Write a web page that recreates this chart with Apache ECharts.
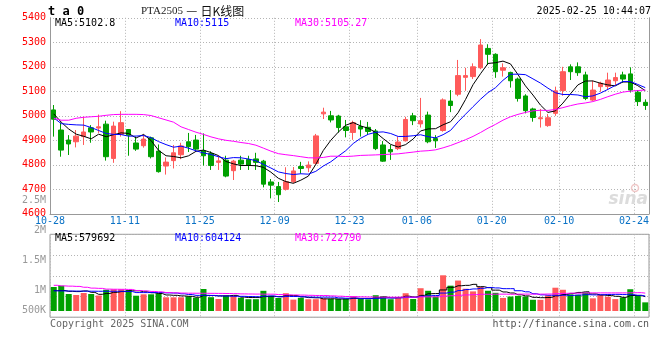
<!DOCTYPE html>
<html><head><meta charset="utf-8">
<script src="https://cdn.jsdelivr.net/npm/echarts@6/dist/echarts.min.js"></script>
<style>html,body{margin:0;padding:0;background:#fff}#c{width:660px;height:360px}</style>
</head><body><div id="c"></div>
<script>
const dates = ['10-28','10-29','10-30','10-31','11-01','11-04','11-05','11-06','11-07','11-08',
'11-11','11-12','11-13','11-14','11-15','11-18','11-19','11-20','11-21','11-22',
'11-25','11-26','11-27','11-28','11-29','12-02','12-03','12-04','12-05','12-06',
'12-09','12-10','12-11','12-12','12-13','12-16','12-17','12-18','12-19','12-20',
'12-23','12-24','12-25','12-26','12-27','12-30','12-31','01-02','01-03',
'01-06','01-07','01-08','01-09','01-10','01-13','01-14','01-15','01-16','01-17',
'01-20','01-21','01-22','01-23','01-24','01-27','02-05','02-06','02-07',
'02-10','02-11','02-12','02-13','02-14','02-17','02-18','02-19','02-20','02-21',
'02-24','02-25'];
const tickDates = ['10-28','11-11','11-25','12-09','12-23','01-06','01-20','02-10','02-24'];

const opens = [5024,4942,4901,4894,4915,4951,4950,4966,4826,4924,4944,4889,4878,4910,4856,4795,4817,4841,4894,4901,
4857,4846,4810,4819,4776,4819,4822,4824,4815,4730,4711,4700,4731,4793,4788,4806,5008,5000,4999,4955,
4932,4956,4953,4938,4881,4862,4866,4898,5000,4967,5003,4907,4940,5060,5088,5157,5160,5196,5275,5251,
5186,5177,5150,5081,5028,4988,4960,5010,5103,5200,5200,5167,5064,5119,5120,5143,5167,5171,5096,5055];
const closes = [4986,4860,4885,4917,4934,4934,4955,4833,4958,4972,4921,4864,4905,4833,4772,4811,4849,4877,4874,4864,
4837,4797,4816,4754,4815,4803,4799,4810,4721,4717,4678,4731,4775,4785,4799,4918,5015,4983,4952,4940,
4972,4946,4936,4866,4815,4853,4893,4985,4980,4980,4894,4898,5065,5042,5164,5164,5200,5289,5251,5180,
5196,5143,5071,5021,4993,4992,4992,5102,5180,5180,5176,5071,5105,5133,5146,5156,5150,5105,5058,5042];
const lows = [4915,4833,4840,4871,4881,4890,4930,4817,4808,4915,4837,4857,4870,4826,4768,4760,4785,4823,4852,4858,
4797,4779,4779,4749,4738,4779,4779,4779,4708,4663,4648,4695,4725,4764,4770,4800,4987,4973,4932,4912,
4902,4915,4922,4860,4812,4820,4860,4895,4962,4952,4888,4869,4935,5015,5080,5102,5150,5190,5207,5155,
5160,5115,5058,5010,4976,4952,4955,5000,5082,5146,5163,5064,5060,5098,5105,5125,5135,5095,5040,5024];
const highs = [5044,4973,4921,4942,4996,4962,5005,4980,4976,5019,4946,4915,4924,4915,4883,4830,4881,4890,4930,4922,
4928,4855,4837,4837,4820,4837,4837,4849,4820,4742,4730,4790,4791,4812,4814,4926,5033,5020,5004,4983,
4980,4982,4975,4946,4897,4881,4915,4996,5012,5073,5017,4921,5071,5105,5228,5196,5214,5313,5292,5255,
5214,5180,5156,5088,5033,5028,5007,5119,5200,5210,5218,5180,5143,5139,5176,5176,5180,5198,5105,5067];

const ma5 = [5008,4974,4946,4925,4916.4,4906,4925,4914.6,4922.8,4930.4,4927.8,4909.6,4924,4899,4859,4837,4834,4828.4,4836.6,4855,
4860.2,4849.8,4837.6,4813.6,4803.8,4797,4797.4,4796.2,4789.6,4770,4745,4731.4,4724.4,4737.2,4753.6,4801.6,4858.4,4900,4933.4,4961.6,
4972.4,4958.6,4949.2,4932,4907,4883.2,4872.6,4882.4,4905.2,4938.2,4946.4,4947.4,4963.4,4975.8,5012.6,5066.6,5127,5171.8,5213.6,5216.8,
5223.2,5211.8,5168.2,5122.2,5084.8,5044,5013.8,5020,5051.8,5089.2,5126,5141.8,5142.4,5133,5126.2,5122.2,5138,5138,5123,5102.8];
const ma10 = [4992,4968,4965,4963,4962,4952,4940,4928,4924,4923.4,4916.9,4917.3,4919.3,4910.9,4894.7,4882.4,4871.8,4876.2,4867.8,4857,
4848.6,4841.9,4833,4825.1,4829.4,4828.6,4823.6,4816.9,4801.6,4786.9,4771,4764.4,4760.3,4763.4,4761.8,4773.3,4794.9,4812.2,4835.3,4857.6,
4887,4908.5,4924.6,4932.7,4934.3,4927.8,4915.6,4915.8,4918.6,4922.6,4914.8,4910,4922.9,4940.5,4975.4,5006.5,5037.2,5067.6,5094.7,5114.7,
5144.9,5169.4,5170,5167.9,5150.8,5133.6,5112.8,5094.1,5087,5087,5085,5077.8,5081.2,5092.4,5107.7,5124.1,5139.9,5140.2,5128,5115];
const ma30 = [4990,4982,4982,4990,4994,4996,4998,5002,5005,5006,5006,5006,5005,5001,4992,4983,4974,4955,4944,4933,
4924,4914,4906,4900,4896,4891,4887,4880,4868,4855.8,4845.5,4841.2,4837.5,4833.1,4828.6,4828.1,4830.1,4835.1,4834.9,4833.8,
4835.5,4838.3,4839.3,4840.4,4841.8,4843.2,4844.7,4848.3,4851.8,4855.7,4857.6,4861,4869.3,4878.9,4890.5,4902.5,4915.9,4931.9,4949.5,4965,
4982.2,4996,5005.8,5013.7,5020.2,5022.6,5021.9,5025.8,5033.4,5041.4,5048.2,5052.4,5058,5066.9,5078,5088.1,5096.6,5100.6,5103.2,5105.27];

const vols = [969600,1022100,686800,646400,727200,686800,626200,860500,876700,876900,848400,618100,674700,675100,715100,553500,552900,554100,589800,537300,
888800,557500,484800,614100,613500,537900,476700,477300,816100,618600,525200,719100,460600,533300,476100,477500,505000,484800,485400,492900,
597900,492100,472700,638300,598500,476300,557900,718600,484200,921100,817700,586500,1443500,1024200,1230700,900300,793000,970600,818300,735100,
528600,585900,611200,587100,454300,453700,627800,941600,859000,673200,652000,752000,512000,648000,578800,480000,548000,880000,640500,350000];
const vma5 = [825000,828000,795000,785000,810400,753900,674700,709400,755500,785400,817700,816100,779000,738600,706300,647300,634300,610100,593100,557500,
624600,625500,611600,616500,631700,561600,545400,543900,584300,585300,582800,631300,627900,571400,542900,533300,490500,495300,485800,489100,
513200,510600,508200,538800,559900,535600,548700,597900,567100,631600,699900,705600,850600,958600,1020500,1037000,1078300,983800,942600,843500,
769100,727700,655800,609600,553400,538400,546800,612900,667300,711100,750700,775600,689600,647400,628600,594200,553400,627000,625500,579692];
const vma10 = [815000,812000,808000,805000,802000,800000,798000,797000,798000,797900,785800,745400,744200,747100,745900,732500,725200,694600,665900,631900,
635900,629900,610900,604800,594600,593100,585500,577800,600400,608500,572200,588300,585900,577800,564100,558100,560900,561600,528600,516000,
523300,500600,501800,512300,524500,524400,529700,553100,552900,595800,617700,627200,724300,762900,826100,868500,892000,917200,950600,932000,
903100,903000,819800,776100,698400,653800,637300,634400,638400,632200,644600,661200,651300,657400,669800,672400,664500,658300,636500,604124];
const vma30 = [1038000,1015000,1005000,995000,960000,925000,915000,885000,880000,877000,872000,830000,815000,790000,775000,745000,735000,725000,720000,718000,
716000,714000,712000,708000,702000,692000,688000,684000,681000,679500,664600,654500,647000,643200,634900,627900,623800,611300,598300,585500,
577100,572900,566200,565000,561100,558500,558700,564200,560600,573400,571100,572000,604000,617700,638200,650300,660800,677300,677400,681200,
681400,676900,681900,683700,683000,682200,686300,701500,714000,720000,721800,730500,731800,732100,731400,731600,731200,736600,741800,722790];

const volLabelNames = {500000:'500K',1000000:'1M',1500000:'1.5M',2000000:'2M',2500000:'2.5M'};

const MONO = '"DejaVu Sans Mono", "Liberation Mono", monospace';
const UP = '#ff5a5a', DOWN = '#00a000';
const GRIDC = '#b4b4b4', AXISC = '#999999';
const last = a => a[a.length - 1];

const candleData = dates.map((d, i) => [opens[i], closes[i], lows[i], highs[i]]);
const volData = vols.map((v, i) => ({ value: v, itemStyle: { color: closes[i] >= opens[i] ? UP : DOWN } }));
const isTick = (i) => tickDates.indexOf(dates[i]) >= 0;
const dotted = { color: GRIDC, type: [1, 2], width: 1 };

const chart = echarts.init(document.getElementById('c'));
const lineS = (name, data, color, xi, yi, step) => ({
  name, type: 'line', data, xAxisIndex: xi, yAxisIndex: yi, showSymbol: false, symbol: 'none',
  step: step || false, smooth: false, silent: true,
  lineStyle: { color, width: 1 }, z: 5
});

function txt(text, x, y, font, fill, align) {
  return { type: 'text', silent: true, z: 100,
    style: { text, x, y, font, fill, align: align || 'left', verticalAlign: 'middle',
             textAlign: align || 'left', textVerticalAlign: 'middle' } };
}

chart.setOption({
  animation: false,
  backgroundColor: '#ffffff',
  grid: [
    { left: 50, right: 11, top: 17.8, height: 196, outerBoundsMode: 'none', containLabel: false },
    { left: 50, right: 11, top: 234.3, height: 82.9, show: true, borderColor: AXISC, borderWidth: 1,
      backgroundColor: 'transparent', outerBoundsMode: 'none', containLabel: false },
    { left: 50, right: 11, top: 200.7, height: 120, outerBoundsMode: 'none', containLabel: false }
  ],
  xAxis: [
    { type: 'category', gridIndex: 0, data: dates, boundaryGap: true,
      axisLine: { show: true, lineStyle: { color: AXISC, width: 1 } },
      axisTick: { show: false },
      axisLabel: { show: true, interval: (i) => isTick(i), color: '#0a72c6', fontFamily: MONO, fontSize: 10,
                   margin: 3, padding: [0, 7.5, 0, 0] },
      splitLine: { show: true, interval: (i) => isTick(i), lineStyle: dotted } },
    { type: 'category', gridIndex: 1, data: dates, boundaryGap: true,
      axisLine: { show: false }, axisTick: { show: false }, axisLabel: { show: false },
      splitLine: { show: true, interval: (i) => isTick(i), lineStyle: dotted } },
    { type: 'category', gridIndex: 2, data: dates, show: false }
  ],
  yAxis: [
    { type: 'value', gridIndex: 0, min: 4600, max: 5400, interval: 100, position: 'left',
      axisLine: { show: true, lineStyle: { color: AXISC, width: 1 } }, axisTick: { show: false },
      axisLabel: { color: '#ff0000', fontFamily: MONO, fontSize: 10, margin: 4, padding: [0, 0, 4, 0],
                   formatter: (v) => String(v) },
      splitLine: { show: true, lineStyle: dotted } },
    { type: 'value', gridIndex: 0, min: 4600, max: 5400, interval: 100, position: 'right',
      axisLine: { show: true, lineStyle: { color: AXISC, width: 1 } }, axisTick: { show: false },
      axisLabel: { show: false }, splitLine: { show: false } },
    { type: 'value', gridIndex: 1, min: -250000, max: 3100000, position: 'left',
      axisLine: { show: false }, axisTick: { show: false }, axisLabel: { show: false }, splitLine: { show: false } },
    { type: 'value', gridIndex: 1, min: 0, max: 4, interval: 1, position: 'right',
      axisLine: { show: false }, axisTick: { show: false }, axisLabel: { show: false },
      splitLine: { show: true, lineStyle: dotted } },
    { type: 'value', gridIndex: 2, min: 500000, max: 2500000, interval: 500000, position: 'left',
      axisLine: { show: false }, axisTick: { show: false }, splitLine: { show: false },
      axisLabel: { color: '#999999', fontFamily: MONO, fontSize: 10, margin: 4,
        formatter: (v) => v === 500000 ? '{lo|' + volLabelNames[v] + '}' : volLabelNames[v],
        rich: { lo: { color: '#999999', fontFamily: MONO, fontSize: 10, padding: [0, 0, 20, 0] } } } }
  ],
  series: [
    { type: 'candlestick', name: 'K', xAxisIndex: 0, yAxisIndex: 0, data: candleData, barWidth: 5, silent: true,
      itemStyle: { color: UP, color0: DOWN, borderColor: UP, borderColor0: DOWN, borderWidth: 1 }, z: 3 },
    lineS('MA5', ma5, '#000000', 0, 0),
    lineS('MA10', ma10, '#0000ff', 0, 0),
    lineS('MA30', ma30, '#ff00ff', 0, 0),
    { type: 'bar', name: 'VOL', xAxisIndex: 1, yAxisIndex: 2, data: volData, barWidth: 6, silent: true, z: 3 },
    lineS('VMA5', vma5, '#000000', 1, 2, 'middle'),
    lineS('VMA10', vma10, '#0000ff', 1, 2, 'middle'),
    lineS('VMA30', vma30, '#ff00ff', 1, 2, 'middle')
  ],
  graphic: [
    txt('t a 0', 48, 12, 'bold 12px ' + MONO, '#000000'),
    { type: 'text', silent: true, z: 100,
      style: { x: 141, y: 11, verticalAlign: 'middle', textVerticalAlign: 'middle',
        text: '{a|PTA2505} {b|—} {c|日K线图}',
        rich: { a: { font: '11px "Liberation Serif", serif', fill: '#222' , color: '#222'},
                b: { font: '11px "DejaVu Sans", sans-serif', fill: '#222', color: '#222' },
                c: { font: '12px "Noto Sans CJK SC", sans-serif', fill: '#111', color: '#111' } } } },
    txt('2025-02-25 10:44:07', 651, 11, '10px ' + MONO, '#000000', 'right'),
    txt('MA5:' + last(ma5), 55, 23.5, '10px ' + MONO, '#000000'),
    txt('MA10:' + last(ma10), 175, 23.5, '10px ' + MONO, '#0000ff'),
    txt('MA30:' + last(ma30), 295, 23.5, '10px ' + MONO, '#ff00ff'),
    txt('MA5:' + last(vma5), 55, 238.5, '10px ' + MONO, '#000000'),
    txt('MA10:' + last(vma10), 175, 238.5, '10px ' + MONO, '#0000ff'),
    txt('MA30:' + last(vma30), 295, 238.5, '10px ' + MONO, '#ff00ff'),
    txt('Copyright 2025 SINA.COM', 50, 324, '10px ' + MONO, '#666666'),
    txt('http://finance.sina.com.cn', 649, 324, '10px ' + MONO, '#555555', 'right'),
    txt('sina', 648, 200, 'italic bold 17px "DejaVu Sans", sans-serif', '#dcdcdc', 'right'),
    { type: 'circle', silent: true, z: 99, shape: { cx: 635, cy: 188, r: 3.5 },
      style: { fill: 'none', stroke: '#f0c8c8', lineWidth: 1.5 } }
  ]
});
</script></body></html>
